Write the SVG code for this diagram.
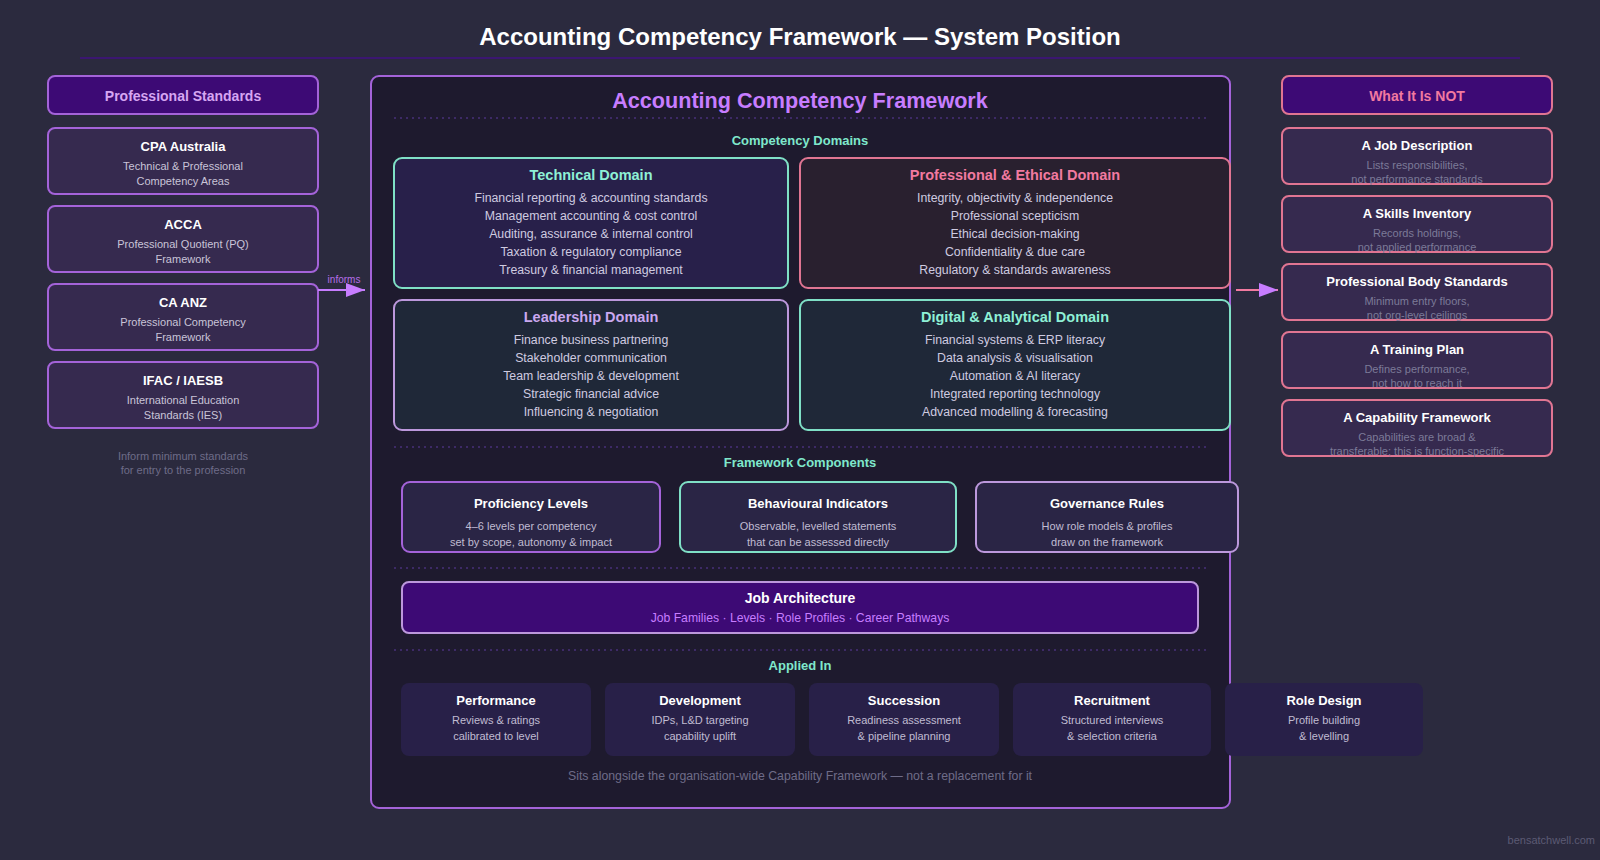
<svg xmlns="http://www.w3.org/2000/svg" width="1600" height="860" viewBox="0 0 1600 860">
<defs>
<marker id="arrP" markerWidth="20" markerHeight="14" refX="19" refY="7" orient="auto" markerUnits="userSpaceOnUse"><path d="M0,0 L19,7 L0,14 Z" fill="#c77dff"/></marker>
<style>
text{font-family:"Liberation Sans",Arial,sans-serif;text-anchor:middle}
.bg{fill:#2b2a3e}
.h1{font-size:24px;font-weight:bold;fill:#ffffff}
.hdr{fill:#3d0a75;stroke-width:2}
.side{fill:#362a4f;stroke-width:2}
.pur{stroke:#a463d9}
.pink{stroke:#e07592}
.teal{stroke:#7fe0c6}
.lav{stroke:#bc98dc}
.hp{font-size:14px;font-weight:bold;fill:#d6a6f2}
.hk{font-size:14px;font-weight:bold;fill:#f27aa0}
.st{font-size:13px;font-weight:bold;fill:#ffffff}
.ss{font-size:11px;fill:#c9c4d8}
.sg{font-size:11px;fill:#7c7a98}
.note{font-size:11px;fill:#6e6c88}
.sec{font-size:13px;font-weight:bold;fill:#7fe8cc}
.dt{font-size:14.5px;font-weight:bold}
.di{font-size:12.3px;fill:#cfcbe0}
.dash{stroke:#3d2a66;stroke-width:2;stroke-dasharray:2 4;fill:none}
.ct{font-size:13px;font-weight:bold;fill:#ffffff}
.cs{font-size:11px;fill:#c0bcd2}
.ap{fill:#282048}
</style>
</defs>
<rect class="bg" x="0" y="0" width="1600" height="860"/>
<text class="h1" x="800" y="45">Accounting Competency Framework — System Position</text>
<line x1="80" y1="58" x2="1520" y2="58" stroke="#3b1670" stroke-width="2"/>

<g id="professional-standards">
<rect class="hdr pur" x="48" y="76" width="270" height="38" rx="7"/>
<text class="hp" x="183" y="101">Professional Standards</text>
</g>
<g id="cpa-australia">
<rect class="side pur" x="48" y="128" width="270" height="66" rx="7"/>
<text class="st" x="183" y="151">CPA Australia</text>
<text class="ss" x="183" y="170">Technical &amp; Professional</text>
<text class="ss" x="183" y="185">Competency Areas</text>
</g>
<g id="acca">
<rect class="side pur" x="48" y="206" width="270" height="66" rx="7"/>
<text class="st" x="183" y="229">ACCA</text>
<text class="ss" x="183" y="248">Professional Quotient (PQ)</text>
<text class="ss" x="183" y="263">Framework</text>
</g>
<g id="ca-anz">
<rect class="side pur" x="48" y="284" width="270" height="66" rx="7"/>
<text class="st" x="183" y="307">CA ANZ</text>
<text class="ss" x="183" y="326">Professional Competency</text>
<text class="ss" x="183" y="341">Framework</text>
</g>
<g id="ifac">
<rect class="side pur" x="48" y="362" width="270" height="66" rx="7"/>
<text class="st" x="183" y="385">IFAC / IAESB</text>
<text class="ss" x="183" y="404">International Education</text>
<text class="ss" x="183" y="419">Standards (IES)</text>
</g>
<g id="left-note">
<text class="note" x="183" y="460">Inform minimum standards</text>
<text class="note" x="183" y="474">for entry to the profession</text>
</g>

<g id="framework">
<rect x="371" y="76" width="859" height="732" rx="8" fill="#1e1a2e" stroke="#a463d9" stroke-width="2"/>
<text x="800" y="108" style="font-size:21.6px;font-weight:bold;fill:#c77dff">Accounting Competency Framework</text>
<line class="dash" x1="394" y1="118" x2="1206" y2="118"/>
<text class="sec" x="800" y="145">Competency Domains</text>
</g>

<g id="technical-domain">
<rect x="394" y="158" width="394" height="130" rx="8" fill="#28204a" stroke="#7fe0c6" stroke-width="2"/>
<text class="dt" x="591" y="180" fill="#8ef0d6">Technical Domain</text>
<text class="di" x="591" y="202">Financial reporting &amp; accounting standards</text>
<text class="di" x="591" y="220">Management accounting &amp; cost control</text>
<text class="di" x="591" y="238">Auditing, assurance &amp; internal control</text>
<text class="di" x="591" y="256">Taxation &amp; regulatory compliance</text>
<text class="di" x="591" y="274">Treasury &amp; financial management</text>
</g>
<g id="ethical-domain">
<rect x="800" y="158" width="430" height="130" rx="8" fill="#29202f" stroke="#e07592" stroke-width="2"/>
<text class="dt" x="1015" y="180" fill="#f27aa0">Professional &amp; Ethical Domain</text>
<text class="di" x="1015" y="202">Integrity, objectivity &amp; independence</text>
<text class="di" x="1015" y="220">Professional scepticism</text>
<text class="di" x="1015" y="238">Ethical decision-making</text>
<text class="di" x="1015" y="256">Confidentiality &amp; due care</text>
<text class="di" x="1015" y="274">Regulatory &amp; standards awareness</text>
</g>
<g id="leadership-domain">
<rect x="394" y="300" width="394" height="130" rx="8" fill="#1f2838" stroke="#bc98dc" stroke-width="2"/>
<text class="dt" x="591" y="322" fill="#caa8f0">Leadership Domain</text>
<text class="di" x="591" y="344">Finance business partnering</text>
<text class="di" x="591" y="362">Stakeholder communication</text>
<text class="di" x="591" y="380">Team leadership &amp; development</text>
<text class="di" x="591" y="398">Strategic financial advice</text>
<text class="di" x="591" y="416">Influencing &amp; negotiation</text>
</g>
<g id="digital-domain">
<rect x="800" y="300" width="430" height="130" rx="8" fill="#1f2838" stroke="#7fe0c6" stroke-width="2"/>
<text class="dt" x="1015" y="322" fill="#8ef0d6">Digital &amp; Analytical Domain</text>
<text class="di" x="1015" y="344">Financial systems &amp; ERP literacy</text>
<text class="di" x="1015" y="362">Data analysis &amp; visualisation</text>
<text class="di" x="1015" y="380">Automation &amp; AI literacy</text>
<text class="di" x="1015" y="398">Integrated reporting technology</text>
<text class="di" x="1015" y="416">Advanced modelling &amp; forecasting</text>
</g>

<g id="components-heading">
<line class="dash" x1="394" y1="447" x2="1206" y2="447"/>
<text class="sec" x="800" y="467">Framework Components</text>
</g>
<g id="proficiency-levels">
<rect x="402" y="482" width="258" height="70" rx="8" fill="#2a2545" stroke="#a463d9" stroke-width="2"/>
<text class="ct" x="531" y="508">Proficiency Levels</text>
<text class="cs" x="531" y="530">4–6 levels per competency</text>
<text class="cs" x="531" y="546">set by scope, autonomy &amp; impact</text>
</g>
<g id="behavioural-indicators">
<rect x="680" y="482" width="276" height="70" rx="8" fill="#2a2545" stroke="#7fe0c6" stroke-width="2"/>
<text class="ct" x="818" y="508">Behavioural Indicators</text>
<text class="cs" x="818" y="530">Observable, levelled statements</text>
<text class="cs" x="818" y="546">that can be assessed directly</text>
</g>
<g id="governance-rules">
<rect x="976" y="482" width="262" height="70" rx="8" fill="#2a2545" stroke="#bc98dc" stroke-width="2"/>
<text class="ct" x="1107" y="508">Governance Rules</text>
<text class="cs" x="1107" y="530">How role models &amp; profiles</text>
<text class="cs" x="1107" y="546">draw on the framework</text>
</g>

<g id="job-architecture">
<line class="dash" x1="394" y1="568" x2="1206" y2="568"/>
<rect x="402" y="582" width="796" height="51" rx="7" fill="#3d0a75" stroke="#bc98dc" stroke-width="2"/>
<text x="800" y="603" style="font-size:14px;font-weight:bold;fill:#ffffff">Job Architecture</text>
<text x="800" y="622" style="font-size:12.2px;fill:#c77dff">Job Families · Levels · Role Profiles · Career Pathways</text>
</g>

<g id="applied-heading">
<line class="dash" x1="394" y1="650" x2="1206" y2="650"/>
<text class="sec" x="800" y="670">Applied In</text>
</g>
<g id="performance">
<rect class="ap" x="401" y="683" width="190" height="73" rx="8"/>
<text class="ct" x="496" y="705">Performance</text>
<text class="cs" x="496" y="724">Reviews &amp; ratings</text>
<text class="cs" x="496" y="740">calibrated to level</text>
</g>
<g id="development">
<rect class="ap" x="605" y="683" width="190" height="73" rx="8"/>
<text class="ct" x="700" y="705">Development</text>
<text class="cs" x="700" y="724">IDPs, L&amp;D targeting</text>
<text class="cs" x="700" y="740">capability uplift</text>
</g>
<g id="succession">
<rect class="ap" x="809" y="683" width="190" height="73" rx="8"/>
<text class="ct" x="904" y="705">Succession</text>
<text class="cs" x="904" y="724">Readiness assessment</text>
<text class="cs" x="904" y="740">&amp; pipeline planning</text>
</g>
<g id="recruitment">
<rect class="ap" x="1013" y="683" width="198" height="73" rx="8"/>
<text class="ct" x="1112" y="705">Recruitment</text>
<text class="cs" x="1112" y="724">Structured interviews</text>
<text class="cs" x="1112" y="740">&amp; selection criteria</text>
</g>
<g id="role-design">
<rect class="ap" x="1225" y="683" width="198" height="73" rx="8"/>
<text class="ct" x="1324" y="705">Role Design</text>
<text class="cs" x="1324" y="724">Profile building</text>
<text class="cs" x="1324" y="740">&amp; levelling</text>
</g>
<g id="framework-note">
<text x="800" y="780" style="font-size:12.3px;fill:#6e6c88">Sits alongside the organisation-wide Capability Framework — not a replacement for it</text>
</g>

<g id="what-it-is-not">
<rect class="hdr pink" x="1282" y="76" width="270" height="38" rx="7"/>
<text class="hk" x="1417" y="101">What It Is NOT</text>
</g>
<g id="not-job-description">
<rect class="side pink" x="1282" y="128" width="270" height="56" rx="7"/>
<text class="st" x="1417" y="150">A Job Description</text>
<text class="sg" x="1417" y="169">Lists responsibilities,</text>
<text class="sg" x="1417" y="183">not performance standards</text>
</g>
<g id="not-skills-inventory">
<rect class="side pink" x="1282" y="196" width="270" height="56" rx="7"/>
<text class="st" x="1417" y="218">A Skills Inventory</text>
<text class="sg" x="1417" y="237">Records holdings,</text>
<text class="sg" x="1417" y="251">not applied performance</text>
</g>
<g id="not-professional-body">
<rect class="side pink" x="1282" y="264" width="270" height="56" rx="7"/>
<text class="st" x="1417" y="286">Professional Body Standards</text>
<text class="sg" x="1417" y="305">Minimum entry floors,</text>
<text class="sg" x="1417" y="319">not org-level ceilings</text>
</g>
<g id="not-training-plan">
<rect class="side pink" x="1282" y="332" width="270" height="56" rx="7"/>
<text class="st" x="1417" y="354">A Training Plan</text>
<text class="sg" x="1417" y="373">Defines performance,</text>
<text class="sg" x="1417" y="387">not how to reach it</text>
</g>
<g id="not-capability-framework">
<rect class="side pink" x="1282" y="400" width="270" height="56" rx="7"/>
<text class="st" x="1417" y="422">A Capability Framework</text>
<text class="sg" x="1417" y="441">Capabilities are broad &amp;</text>
<text class="sg" x="1417" y="455">transferable; this is function-specific</text>
</g>

<g id="connectors">
<line x1="318" y1="290" x2="365" y2="290" stroke="#c77dff" stroke-width="2" marker-end="url(#arrP)"/>
<text x="344" y="283" style="font-size:10px;fill:#b56ee6">informs</text>
<line x1="1236" y1="290" x2="1278" y2="290" stroke="#f27aa0" stroke-width="2" marker-end="url(#arrP)"/>
</g>

<text x="1595" y="844" style="font-size:11px;fill:#5c5a74;text-anchor:end">bensatchwell.com</text>
</svg>
